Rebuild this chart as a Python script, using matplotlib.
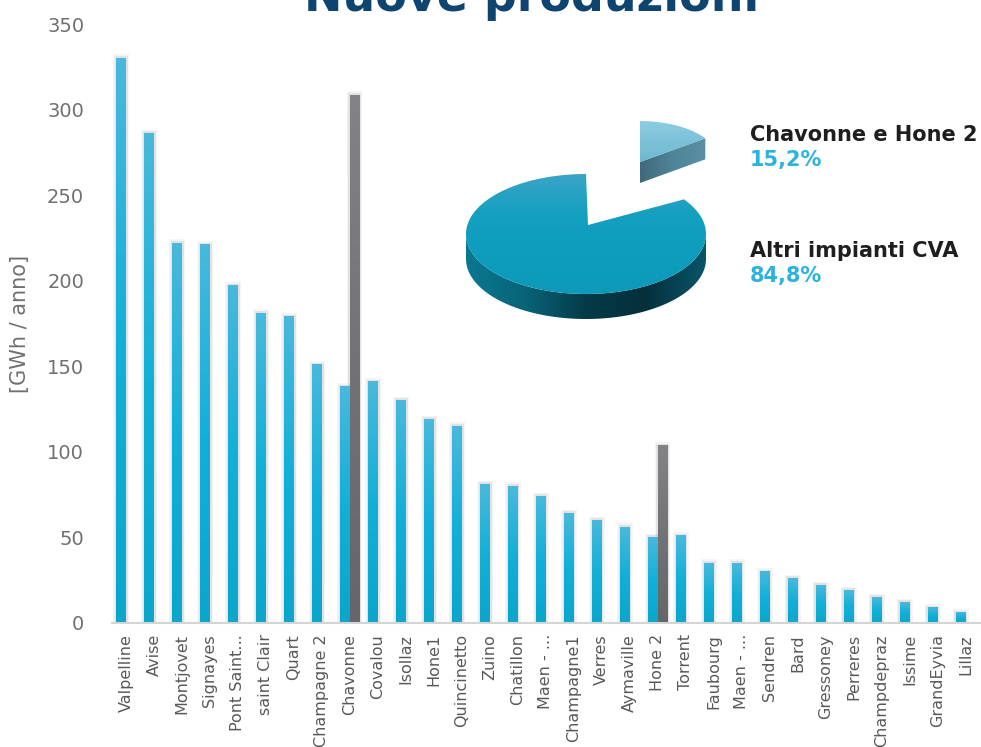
import numpy as np
import matplotlib.pyplot as plt
from matplotlib.colors import LinearSegmentedColormap
from matplotlib.patches import Polygon, Rectangle

# data
plants = ["Valpelline", "Avise", "Montjovet", "Signayes", "Pont Saint...",
          "saint Clair", "Quart", "Champagne 2", "Chavonne", "Covalou",
          "Isollaz", "Hone1", "Quincinetto", "Zuino", "Chatillon", "Maen - ...",
          "Champagne1", "Verres", "Aymaville", "Hone 2", "Torrent", "Faubourg",
          "Maen - ...", "Sendren", "Bard", "Gressoney", "Perreres",
          "Champdepraz", "Issime", "GrandEyvia", "Lillaz"]
current = [330, 286, 222, 221, 197, 181, 179, 151, 138, 141,
           130, 119, 115, 81, 80, 74, 64, 60, 56, 50, 51, 35,
           35, 30, 26, 22, 19, 15, 12, 9, 6]
new_prod = [np.nan] * len(plants)
new_prod[plants.index("Chavonne")] = 308.5
new_prod[plants.index("Hone 2")] = 103.5

pie_labels = ["Chavonne e Hone 2", "Altri impianti CVA"]
pie_shares = [15.2, 84.8]
yticks = [0, 50, 100, 150, 200, 250, 300, 350]

W, H = 981, 747
fig = plt.figure(figsize=(W / 100, H / 100), dpi=100)
ax = fig.add_axes([112 / W, 124 / H, (981 - 112) / W, (723 - 124) / H])

blue_cmap = LinearSegmentedColormap.from_list("b", ["#0aa6cc", "#12b0d8", "#48b9dc"])
grey_cmap = LinearSegmentedColormap.from_list("g", ["#65666a", "#727377", "#828387"])
grad = np.linspace(0, 1, 64).reshape(-1, 1)

x = np.arange(len(plants))
w = 0.34


def gradient_bars(xs, vals, cmap):
    for xi, v in zip(xs, vals):
        if np.isnan(v):
            continue
        # soft shadow round the bar
        for pad, a in [(0.22, 0.10), (0.12, 0.20)]:
            ax.add_patch(Rectangle((xi - w / 2 - pad / 2, 0), w + pad, v + pad * 10,
                                   color="#9a9a9a", alpha=a, lw=0, zorder=1))
        ax.imshow(grad, extent=[xi - w / 2, xi + w / 2, 0, v], origin="lower",
                  aspect="auto", cmap=cmap, zorder=2)


gradient_bars(x - w / 2, current, blue_cmap)
gradient_bars(x + w / 2, new_prod, grey_cmap)

ax.set_xlim(-0.5, len(plants) - 0.45)
ax.set_ylim(0, 350)
ax.set_yticks(yticks)
ax.set_xticks(x)
ax.set_xticklabels(plants, rotation=90, fontsize=11.5, color="#595959")
ax.tick_params(axis="y", length=0, labelsize=14, labelcolor="#707070", pad=20)
ax.tick_params(axis="x", length=0, pad=8)
for s in ["top", "right", "left"]:
    ax.spines[s].set_visible(False)
ax.spines["bottom"].set_color("#d4d4d4")
ax.spines["bottom"].set_linewidth(1.5)
ax.set_ylabel("[GWh / anno]", fontsize=15, color="#707070", labelpad=12)

fig.text(532 / W, 1 - 11 / H, "Nuove produzioni", ha="center", va="baseline",
         fontsize=33, fontweight="bold", color="#0d4570")

# pseudo-3D pie drawn in pixel coordinates
pax = fig.add_axes([0, 0, 1, 1])
pax.set_xlim(0, W)
pax.set_ylim(H, 0)
pax.axis("off")


def clipped_gradient(poly, colors, horizontal, z):
    pax.add_patch(poly)
    cm = LinearSegmentedColormap.from_list("c", colors)
    g = np.linspace(0, 1, 128)
    img = g.reshape(1, -1) if horizontal else g.reshape(-1, 1)
    xs, ys = poly.get_xy()[:, 0], poly.get_xy()[:, 1]
    im = pax.imshow(img, extent=[xs.min(), xs.max(), ys.max(), ys.min()],
                    aspect="auto", cmap=cm, zorder=z, origin="upper")
    im.set_clip_path(poly)


frac_small = pie_shares[0] / sum(pie_shares)
a_start = 90.0
a_split = a_start - 360 * frac_small

# big slice
cx, cy, rx, ry, th = 586, 234, 120, 60, 25
t = np.radians(np.linspace(-180, 0, 120))
arc = np.c_[cx + rx * np.cos(t), cy - ry * np.sin(t)]
side = np.vstack([arc, (arc + [0, th])[::-1]])
clipped_gradient(Polygon(side, closed=True, fc="none", ec="none"),
                 ["#0a7892", "#086377", "#053a48", "#04303c", "#0a5569"], True, 3)
t = np.radians(np.linspace(a_start - 360, a_split, 300))
top = np.vstack([[cx + 2, cy - 9], np.c_[cx + rx * np.cos(t), cy - ry * np.sin(t)]])
clipped_gradient(Polygon(top, closed=True, fc="none", ec="none"),
                 ["#3aa4c6", "#14a0c0", "#0e9dbd", "#0d9aba"], False, 4)

# small exploded slice
sx, sy, srx, sry, sth = 640, 162, 80, 41, 21
t = np.radians(np.linspace(a_split, a_start, 80))
stop = np.vstack([[sx, sy], np.c_[sx + srx * np.cos(t), sy - sry * np.sin(t)]])
edge = stop[1]
face = np.array([[sx, sy], edge, edge + [0, sth], [sx, sy + sth]])
clipped_gradient(Polygon(face, closed=True, fc="none", ec="none"),
                 ["#40697a", "#4f8598", "#5a90a4"], True, 3)
clipped_gradient(Polygon(stop, closed=True, fc="none", ec="none"),
                 ["#8ecde2", "#7cc1d9", "#6fb7d2"], False, 4)

label_y = [135, 251]
for lab, share, yy in zip(pie_labels, pie_shares, label_y):
    pax.text(750, yy, lab, fontsize=15, fontweight="bold", color="#1e1e1e",
             va="center", ha="left")
    pax.text(750, yy + 25, f"{share:.1f}%".replace(".", ","), fontsize=15,
             fontweight="bold", color="#2bb3e0", va="center", ha="left")

fig.savefig("out.png", dpi=100)
